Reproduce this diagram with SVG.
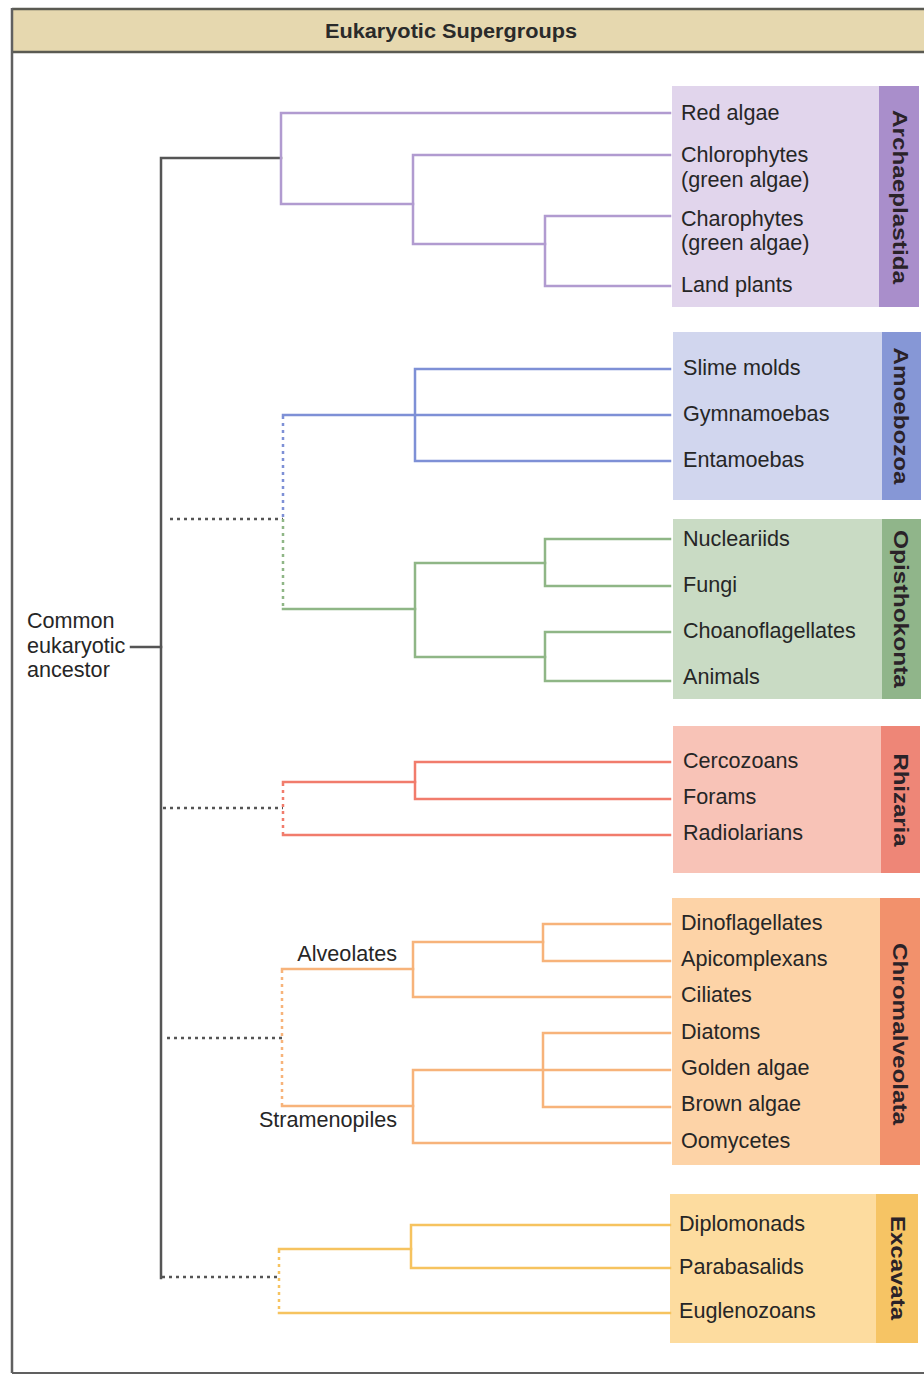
<svg xmlns="http://www.w3.org/2000/svg" width="924" height="1376" viewBox="0 0 924 1376">
<style>
  .lbl { font-family: "Liberation Sans", Arial, sans-serif; font-size: 21.6px; fill: #262626; }
  .grp { font-family: "Liberation Sans", Arial, sans-serif; font-size: 21px; font-weight: bold; fill: #2a2228; }
  .title { font-family: "Liberation Sans", Arial, sans-serif; font-size: 20px; font-weight: bold; fill: #2a2a2a; }
  .ln { fill: none; stroke-width: 2.5; stroke-linejoin: miter; stroke-linecap: square; }
  .dot { fill: none; stroke-width: 2.5; stroke-dasharray: 3 4; }
  .dk { stroke: #555; }
  .pu { stroke: #b19bd0; }
  .bl { stroke: #7e90d6; }
  .gr { stroke: #8fb686; }
  .rd { stroke: #f17c6c; }
  .or { stroke: #f7b37a; }
  .ye { stroke: #f6c35f; }
</style>

<!-- frame and header -->
<g id="frame">
  <rect x="12" y="9" width="920" height="43" fill="#e6d8af"/>
  <line x1="12" y1="9" x2="924" y2="9" stroke="#5a5a52" stroke-width="2.5"/>
  <line x1="12" y1="52" x2="924" y2="52" stroke="#5a5a52" stroke-width="2.5"/>
  <line x1="12" y1="8" x2="12" y2="1373" stroke="#606060" stroke-width="2.5"/>
  <line x1="12" y1="1373" x2="924" y2="1373" stroke="#606060" stroke-width="2"/>
  <text class="title" x="451" y="38" text-anchor="middle" textLength="252" lengthAdjust="spacingAndGlyphs">Eukaryotic Supergroups</text>
</g>

<!-- supergroup boxes -->
<g id="archaeplastida">
  <rect x="672" y="86" width="207" height="221" fill="#e1d5ec"/>
  <rect x="879" y="86" width="40" height="221" fill="#a98ecb"/>
  <text class="grp" transform="translate(893,197) rotate(90)" text-anchor="middle" textLength="174" lengthAdjust="spacingAndGlyphs">Archaeplastida</text>
  <text class="lbl" x="681" y="120">Red algae</text>
  <text class="lbl" x="681" y="162">Chlorophytes</text>
  <text class="lbl" x="681" y="187">(green algae)</text>
  <text class="lbl" x="681" y="226">Charophytes</text>
  <text class="lbl" x="681" y="250">(green algae)</text>
  <text class="lbl" x="681" y="292">Land plants</text>
</g>

<g id="amoebozoa">
  <rect x="673" y="332" width="209" height="168" fill="#d1d6ee"/>
  <rect x="882" y="332" width="39" height="168" fill="#8697d6"/>
  <text class="grp" transform="translate(894,416) rotate(90)" text-anchor="middle" textLength="137" lengthAdjust="spacingAndGlyphs">Amoebozoa</text>
  <text class="lbl" x="683" y="375">Slime molds</text>
  <text class="lbl" x="683" y="421">Gymnamoebas</text>
  <text class="lbl" x="683" y="467">Entamoebas</text>
</g>

<g id="opisthokonta">
  <rect x="673" y="519" width="209" height="180" fill="#c9dbc4"/>
  <rect x="882" y="519" width="39" height="180" fill="#90b58a"/>
  <text class="grp" transform="translate(894,609) rotate(90)" text-anchor="middle" textLength="158" lengthAdjust="spacingAndGlyphs">Opisthokonta</text>
  <text class="lbl" x="683" y="546">Nucleariids</text>
  <text class="lbl" x="683" y="592">Fungi</text>
  <text class="lbl" x="683" y="638">Choanoflagellates</text>
  <text class="lbl" x="683" y="684">Animals</text>
</g>

<g id="rhizaria">
  <rect x="673" y="726" width="208" height="147" fill="#f8c3b7"/>
  <rect x="881" y="726" width="39" height="147" fill="#ee8677"/>
  <text class="grp" transform="translate(894,800) rotate(90)" text-anchor="middle" textLength="93" lengthAdjust="spacingAndGlyphs">Rhizaria</text>
  <text class="lbl" x="683" y="768">Cercozoans</text>
  <text class="lbl" x="683" y="804">Forams</text>
  <text class="lbl" x="683" y="840">Radiolarians</text>
</g>

<g id="chromalveolata">
  <rect x="672" y="898" width="208" height="267" fill="#fdd3a7"/>
  <rect x="880" y="898" width="40" height="267" fill="#f2916c"/>
  <text class="grp" transform="translate(893,1034) rotate(90)" text-anchor="middle" textLength="182" lengthAdjust="spacingAndGlyphs">Chromalveolata</text>
  <text class="lbl" x="681" y="930">Dinoflagellates</text>
  <text class="lbl" x="681" y="966">Apicomplexans</text>
  <text class="lbl" x="681" y="1002">Ciliates</text>
  <text class="lbl" x="681" y="1039">Diatoms</text>
  <text class="lbl" x="681" y="1075">Golden algae</text>
  <text class="lbl" x="681" y="1111">Brown algae</text>
  <text class="lbl" x="681" y="1148">Oomycetes</text>
</g>

<g id="excavata">
  <rect x="670" y="1194" width="206" height="149" fill="#fddc9f"/>
  <rect x="876" y="1194" width="42" height="149" fill="#f6c464"/>
  <text class="grp" transform="translate(891,1268) rotate(90)" text-anchor="middle" textLength="104" lengthAdjust="spacingAndGlyphs">Excavata</text>
  <text class="lbl" x="679" y="1231">Diplomonads</text>
  <text class="lbl" x="679" y="1274">Parabasalids</text>
  <text class="lbl" x="679" y="1318">Euglenozoans</text>
</g>

<g id="ancestor">
  <text class="lbl" x="27" y="628">Common</text>
  <text class="lbl" x="27" y="653">eukaryotic</text>
  <text class="lbl" x="27" y="677">ancestor</text>
</g>

<g id="alveolates">
  <text class="lbl" x="397" y="961" text-anchor="end">Alveolates</text>
</g>
<g id="stramenopiles">
  <text class="lbl" x="397" y="1127" text-anchor="end">Stramenopiles</text>
</g>

<!-- connectors -->
<g id="connectors">
  <!-- trunk -->
  <path class="ln dk" d="M281 158 H161 V1278" stroke-width="3" stroke-linecap="butt"/>
  <path class="ln dk" d="M131 647 H161" stroke-width="3" stroke-linecap="butt"/>

  <!-- Archaeplastida -->
  <path class="ln pu" d="M670 113 H281 V204 H413"/>
  <path class="ln pu" d="M670 155 H413 V244 H545"/>
  <path class="ln pu" d="M670 216 H545 V286 H670"/>

  <!-- Amoebozoa + Opisthokonta -->
  <path class="dot dk" d="M170 519 H283"/>
  <path class="dot bl" d="M283 416 V519"/>
  <path class="dot gr" d="M283 519 V608"/>
  <path class="ln bl" d="M670 415 H283"/>
  <path class="ln bl" d="M670 369 H415 V461 H670"/>
  <path class="ln gr" d="M283 609 H415"/>
  <path class="ln gr" d="M545 563 H415 V657 H545"/>
  <path class="ln gr" d="M670 539 H545 V586 H670"/>
  <path class="ln gr" d="M670 632 H545 V681 H670"/>

  <!-- Rhizaria -->
  <path class="dot dk" d="M163 808 H283"/>
  <path class="dot rd" d="M283 783 V834"/>
  <path class="ln rd" d="M283 782 H415"/>
  <path class="ln rd" d="M670 762 H415 V799 H670"/>
  <path class="ln rd" d="M283 835 H670"/>

  <!-- Chromalveolata -->
  <path class="dot dk" d="M167 1038 H282"/>
  <path class="dot or" d="M282 970 V1105"/>
  <path class="ln or" d="M282 969 H413"/>
  <path class="ln or" d="M543 942 H413 V997 H670"/>
  <path class="ln or" d="M670 924 H543 V961 H670"/>
  <path class="ln or" d="M282 1106 H413"/>
  <path class="ln or" d="M670 1070 H413 V1143 H670"/>
  <path class="ln or" d="M670 1033 H543 V1107 H670"/>

  <!-- Excavata -->
  <path class="dot dk" d="M162 1277 H279"/>
  <path class="dot ye" d="M279 1250 V1312"/>
  <path class="ln ye" d="M279 1249 H411"/>
  <path class="ln ye" d="M670 1225 H411 V1268 H670"/>
  <path class="ln ye" d="M279 1313 H670"/>
</g>
</svg>
